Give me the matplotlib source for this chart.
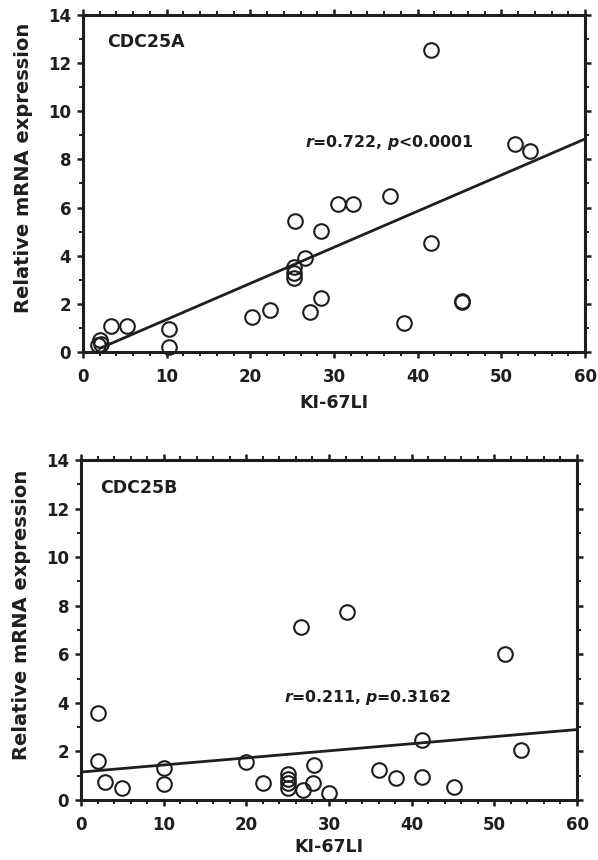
import matplotlib
matplotlib.use("Agg")
import matplotlib.pyplot as plt
from matplotlib.ticker import MultipleLocator

plt.rcParams["font.family"] = ["DejaVu Sans"]
plt.rcParams["font.weight"] = "bold"
plt.rcParams["mathtext.fontset"] = "custom"
plt.rcParams["mathtext.it"] = "DejaVu Sans:italic:bold"
plt.rcParams["mathtext.rm"] = "DejaVu Sans:bold"

# CDC25A panel
cdc25a_x = [1.8, 2.0, 2.2, 3.3, 5.2, 10.3, 10.3, 20.2, 22.3, 25.3, 25.2, 25.2,
            25.2, 26.5, 27.1, 28.4, 28.4, 30.5, 32.3, 36.7, 38.4, 41.6, 41.6,
            45.3, 45.3, 51.6, 53.4]
cdc25a_y = [0.3, 0.5, 0.35, 1.1, 1.1, 0.97, 0.2, 1.46, 1.74, 5.43, 3.55, 3.27,
            3.06, 3.9, 1.67, 5.01, 2.23, 6.13, 6.13, 6.5, 1.21, 12.53, 4.53,
            2.12, 2.08, 8.64, 8.33]
cdc25a_fit_x = [2, 60]
cdc25a_fit_y = [0.15, 8.85]
cdc25a_stats = r"$r$=0.722, $p$<0.0001"

# CDC25B panel
cdc25b_x = [2.1, 2.1, 2.9, 5.0, 10.0, 10.0, 19.9, 22.0, 25.0, 25.0, 25.0, 25.0,
            26.6, 26.8, 28.2, 28.1, 30.0, 32.2, 36.1, 38.1, 41.2, 41.2, 45.1,
            51.3, 53.2]
cdc25b_y = [3.59, 1.59, 0.73, 0.48, 1.31, 0.65, 1.56, 0.69, 1.05, 0.85, 0.7, 0.5,
            7.12, 0.41, 1.45, 0.69, 0.28, 7.74, 1.24, 0.9, 2.49, 0.93, 0.55,
            6.01, 2.07]
cdc25b_fit_x = [0, 60]
cdc25b_fit_y = [1.15, 2.9]
cdc25b_stats = r"$r$=0.211, $p$=0.3162"

INK = "#1e1e1e"


def draw_panel(axis, xs, ys, fit_x, fit_y, name, name_pos, stats, stats_pos,
               xlabel_y):
    axis.plot(fit_x, fit_y, color=INK, linewidth=2.0, zorder=2)
    axis.plot(xs, ys, linestyle="none", marker="o", markersize=10.5,
              markerfacecolor="none", markeredgecolor=INK,
              markeredgewidth=1.5, clip_on=False, zorder=3)

    axis.set_xlim(0, 60)
    axis.set_ylim(0, 14)
    axis.xaxis.set_major_locator(MultipleLocator(10))
    axis.xaxis.set_minor_locator(MultipleLocator(2))
    axis.yaxis.set_major_locator(MultipleLocator(2))
    axis.yaxis.set_minor_locator(MultipleLocator(1))
    axis.tick_params(which="both", direction="out", top=True, right=True,
                     labeltop=False, labelright=False, color=INK)
    axis.tick_params(which="major", length=4.5, width=1.8, labelsize=12,
                     labelcolor=INK)
    axis.tick_params(axis="x", which="major", pad=7)
    axis.tick_params(axis="y", which="major", pad=4)
    axis.tick_params(which="minor", length=3, width=1.4)
    for spine in axis.spines.values():
        spine.set_linewidth(2.2)
        spine.set_color(INK)

    axis.set_xlabel("KI-67LI", fontsize=12.5, fontweight="bold", color=INK)
    axis.set_ylabel("Relative mRNA expression", fontsize=14,
                    fontweight="bold", color=INK)
    axis.xaxis.set_label_coords(0.5, xlabel_y)
    axis.yaxis.set_label_coords(-0.10, 0.545)
    axis.text(name_pos[0], name_pos[1], name, fontsize=12.5,
              fontweight="bold", color=INK, va="center", ha="left")
    axis.text(stats_pos[0], stats_pos[1], stats, fontsize=11.3,
              fontweight="bold", color=INK, va="center", ha="left")


figure = plt.figure(figsize=(5.98, 8.6), dpi=100)
top_axis = figure.add_axes([0.1388, 0.5907, 0.8395, 0.3919])
bottom_axis = figure.add_axes([0.1355, 0.0698, 0.8294, 0.3953])

draw_panel(top_axis, cdc25a_x, cdc25a_y, cdc25a_fit_x, cdc25a_fit_y,
           "CDC25A", (2.9, 12.89), cdc25a_stats, (26.5, 8.69), -0.125)
draw_panel(bottom_axis, cdc25b_x, cdc25b_y, cdc25b_fit_x, cdc25b_fit_y,
           "CDC25B", (2.3, 12.83), cdc25b_stats, (24.6, 4.2), -0.112)

figure.savefig("out.png", dpi=100)
plt.close(figure)
